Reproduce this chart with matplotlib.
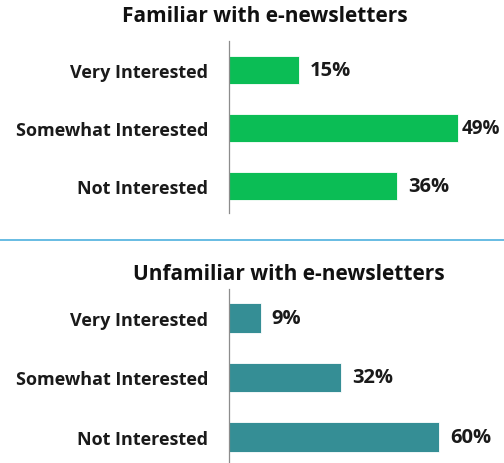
import matplotlib.pyplot as plt
from matplotlib.lines import Line2D

categories = ['Very Interested', 'Somewhat Interested', 'Not Interested']
familiar = [15, 49, 36]
unfamiliar = [9, 32, 60]
titles = ['Familiar with e-newsletters', 'Unfamiliar with e-newsletters']

plt.rcParams['font.family'] = ['Open Sans', 'DejaVu Sans']
plt.rcParams['font.weight'] = 'bold'

W, H = 504, 464
fig = plt.figure(figsize=(W / 100, H / 100), dpi=100)


def px_axes(left, top, width, height):
    return fig.add_axes([left / W, (H - top - height) / H, width / W, height / H])


def panel(ax, values, color, xmax, ylim, barh):
    ax.barh(range(len(categories)), values, height=barh, color=color,
            edgecolor='white', linewidth=0.6)
    ax.set_xlim(0, xmax)
    ax.set_ylim(*ylim)
    ax.set_yticks(range(len(categories)))
    ax.set_yticklabels(categories, fontsize=13, fontweight='bold', color='#1a1a1a')
    ax.tick_params(axis='y', length=0, pad=15)
    ax.set_xticks([])
    for s in ['top', 'right', 'bottom']:
        ax.spines[s].set_visible(False)
    ax.spines['left'].set_color('#8c8c8c')
    ax.spines['left'].set_linewidth(0.9)
    for i, v in enumerate(values):
        near_edge = v / xmax > 0.85
        off = 3 if near_edge else 8
        ax.annotate(f'{v}%', (v, i), xytext=(off, 0), textcoords='offset points',
                    va='center', ha='left', fontsize=13.5 if near_edge else 14.5,
                    fontweight='bold', color='#1a1a1a')


ax1 = px_axes(229, 42, 260, 172)
panel(ax1, familiar, '#0bbd55', 260 / 4.67, (2.47, -0.5), 0.48)

ax2 = px_axes(229, 290, 260, 174)
panel(ax2, unfamiliar, '#358e95', 260 / 3.5, (2.43, -0.48), 0.5)

fig.text(265 / W, 1 - 16 / H, titles[0], ha='center', va='center',
         fontsize=15, fontweight='bold', color='#111111')
fig.text(289 / W, 1 - 274 / H, titles[1], ha='center', va='center',
         fontsize=15, fontweight='bold', color='#111111')

fig.add_artist(Line2D([0, 1], [1 - 241 / H, 1 - 241 / H], color='#5cb6e0',
                      linewidth=1.3, transform=fig.transFigure))

fig.savefig('out.png', dpi=100)
